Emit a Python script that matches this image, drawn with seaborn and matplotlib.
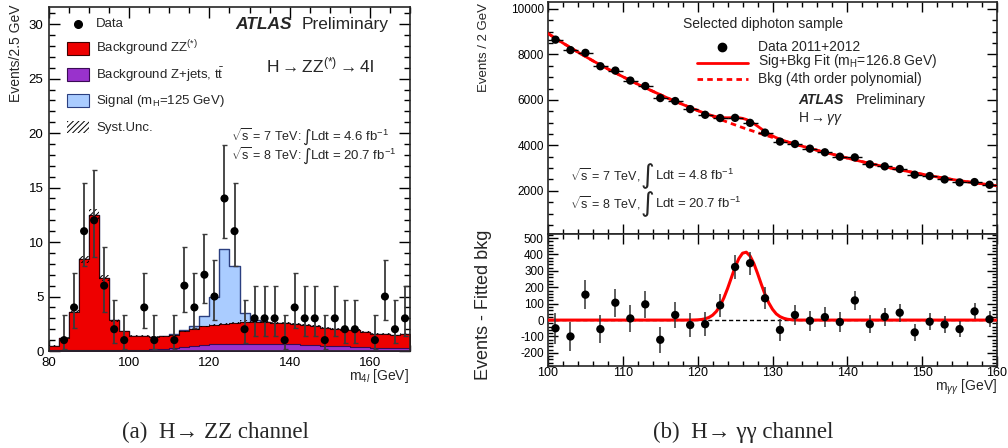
import numpy as np
import pandas as pd
import matplotlib
matplotlib.use("Agg")
import matplotlib.pyplot as plt
from matplotlib.patches import Rectangle
from matplotlib.lines import Line2D
from matplotlib.ticker import MultipleLocator
import seaborn as sns

# ---------------- H -> ZZ(*) -> 4l ----------------
zz_edges = np.arange(80.0, 170.01, 2.5)
zz_centers = 0.5 * (zz_edges[:-1] + zz_edges[1:])
zz_data = [0, 1, 4, 11, 12, 6, 2, 1, 0, 4, 1, 0, 1, 6, 4, 7, 5, 14, 11, 2,
           3, 3, 3, 1, 4, 3, 3, 1, 3, 2, 2, 0, 1, 5, 2, 3]
zz_bkg_zz = [0.45, 1.15, 3.55, 8.35, 12.45, 6.65, 2.75, 1.75, 1.32, 1.30, 1.15, 1.13,
             1.15, 1.40, 1.52, 1.67, 1.75, 1.82, 1.92, 2.02, 2.02, 1.99, 1.96, 1.93,
             1.90, 1.84, 1.78, 1.67, 1.55, 1.53, 1.52, 1.40, 1.28, 1.26, 1.19, 1.36]
zz_bkg_zjets = [0.05, 0.05, 0.05, 0.05, 0.05, 0.05, 0.05, 0.05, 0.08, 0.10, 0.15, 0.22,
                0.30, 0.40, 0.48, 0.58, 0.65, 0.68, 0.68, 0.68, 0.68, 0.66, 0.64, 0.62,
                0.60, 0.56, 0.52, 0.48, 0.45, 0.42, 0.38, 0.35, 0.32, 0.29, 0.26, 0.24]
zz_signal = [0, 0, 0, 0, 0, 0, 0, 0, 0, 0, 0, 0.05,
             0.08, 0.17, 0.32, 0.95, 2.6, 6.9, 5.2, 0.8, 0.15, 0.05, 0, 0,
             0, 0, 0, 0, 0, 0, 0, 0, 0, 0, 0, 0]
zz_syst = [0.03, 0.05, 0.15, 0.35, 0.50, 0.28, 0.12, 0.08, 0.06, 0.06, 0.06, 0.06,
           0.06, 0.07, 0.08, 0.09, 0.10, 0.10, 0.10, 0.10, 0.10, 0.10, 0.10, 0.10,
           0.10, 0.09, 0.09, 0.08, 0.08, 0.08, 0.08, 0.07, 0.07, 0.07, 0.06, 0.07]
# Poisson 68% intervals (lower, upper edge) for the observed counts
poisson_lo = {1: 0.17, 2: 0.71, 3: 1.37, 4: 2.09, 5: 2.84, 6: 3.62, 7: 4.42,
              11: 7.77, 12: 8.62, 14: 10.35}
poisson_hi = {1: 3.30, 2: 4.64, 3: 5.92, 4: 7.16, 5: 8.38, 6: 9.58, 7: 10.77,
              11: 15.4, 12: 16.6, 14: 18.9}

# ---------------- H -> gamma gamma ----------------
gg_centers = np.arange(101, 160, 2)
gg_data = [8650, 8190, 8070, 7480, 7290, 6850, 6610, 6080, 5950, 5595,
           5345, 5200, 5210, 4990, 4560, 4165, 4060, 3855, 3695, 3500,
           3470, 3165, 3075, 2960, 2710, 2650, 2500, 2370, 2385, 2265]
gg_resid = [-50, -100, 155, -55, 106, 10, 96, -120, 31, -30,
            -25, 90, 324, 347, 133, -60, 31, -4, 18, -12,
            120, -25, 20, 45, -75, -10, -27, -55, 53, 5]
gg_fit_x = np.arange(100, 160.01, 2)
gg_bkg_fit = [8920, 8500, 8100, 7720, 7360, 7020, 6690, 6380, 6080, 5800,
              5530, 5270, 5020, 4780, 4560, 4350, 4150, 3960, 3780, 3610,
              3440, 3280, 3130, 2990, 2860, 2730, 2610, 2500, 2400, 2310, 2220]
gg_sig_x = np.arange(119, 134.01, 0.5)
gg_sig_fit = [0.2, 0.6, 1.6, 3.6, 7.9, 16, 30, 53, 88, 135, 193, 258, 323, 375, 408,
              414, 391, 346, 285, 219, 157, 105, 66, 38, 21, 11, 5, 2.2, 0.9, 0.3, 0.1]

# ---------------- style ----------------
sns.set_style("ticks")
plt.rcParams['font.family'] = ['Liberation Sans', 'DejaVu Sans']
plt.rcParams['mathtext.fontset'] = 'custom'
plt.rcParams['mathtext.rm'] = 'Liberation Sans'
plt.rcParams['mathtext.it'] = 'Liberation Sans:italic'
plt.rcParams['mathtext.bf'] = 'Liberation Sans:bold'
plt.rcParams['hatch.linewidth'] = 0.7
plt.rcParams['axes.linewidth'] = 1.2
plt.rcParams['axes.unicode_minus'] = False

W, H = 1008, 448
fig = plt.figure(figsize=(W / 100, H / 100), dpi=100)


def P(x, y):
    return (x / W, 1 - y / H)


def box(l, t, r, b):
    return [l / W, 1 - b / H, (r - l) / W, (b - t) / H]


axL = fig.add_axes(box(49, 6.7, 410, 351))
axT = fig.add_axes(box(548, 1.7, 997, 234))
axB = fig.add_axes(box(548, 234, 997, 366))

TXT = 9.5
INT = ['DejaVu Sans']

# ---------------- left panel ----------------
zz_bkg_zz_a = np.array(zz_bkg_zz)
zz_zj_a = np.array(zz_bkg_zjets)
tot_red = zz_bkg_zz_a + zz_zj_a
tot_all = tot_red + np.array(zz_signal)
hist_df = pd.DataFrame({'m4l': zz_centers, 'all': tot_all, 'red': tot_red,
                        'zjets': zz_zj_a})
edge_list = [float(e) for e in zz_edges]

for col, fc, ec, lw in [('all', '#aaccff', '#2b3f80', 1.0),
                        ('red', '#ee0000', '#400000', 0.8),
                        ('zjets', '#9932cc', '#3a0a55', 0.8)]:
    sns.histplot(data=hist_df, x='m4l', weights=col, bins=edge_list, element='step',
                 fill=True, color=fc, alpha=1, edgecolor=ec, linewidth=lw, ax=axL)
axL.bar(zz_centers, 2 * np.array(zz_syst), bottom=tot_red - np.array(zz_syst), width=2.5,
        fill=False, hatch='//////', linewidth=0, edgecolor='k', zorder=3)

zd = np.array(zz_data)
m = zd > 0
xs = zz_centers[m]
ys = zd[m]
lo = np.array([n - poisson_lo[n] for n in ys])
hi = np.array([poisson_hi[n] - n for n in ys])
axL.errorbar(xs, ys, yerr=[lo, hi], fmt='none', ecolor='#3a3a3a', elinewidth=1.3,
             capsize=1.8, capthick=1.0, zorder=4)
sns.scatterplot(x=xs, y=ys, color='k', s=34, edgecolor='none', ax=axL, zorder=5)

axL.set_xlim(80, 170)
axL.set_ylim(0, 31.6)
axL.xaxis.set_major_locator(MultipleLocator(20))
axL.xaxis.set_minor_locator(MultipleLocator(5))
axL.yaxis.set_major_locator(MultipleLocator(5))
axL.yaxis.set_minor_locator(MultipleLocator(1))
axL.set_xlabel('')
axL.set_ylabel('')
axL.tick_params(which='both', direction='in', top=True, right=True, labelsize=9.5,
                width=1.0, colors='k')
axL.tick_params(which='major', length=8, pad=4)
axL.tick_params(which='minor', length=4)

fig.text(*P(16, 5), 'Events/2.5 GeV', rotation=90, ha='center', va='top', fontsize=10)
fig.text(*P(409, 376), r'm$_{4l}$ [GeV]', ha='right', va='center', fontsize=10)

# legend (left)
fig.add_artist(Line2D([77.5 / W], [1 - 24.3 / H], marker='o', color='k', ms=5.5,
                      transform=fig.transFigure))
fig.text(*P(96, 24.3), 'Data', va='center', fontsize=TXT)
leg_rows = [(48.3, '#ee0000', '#400000', r'Background ZZ$^{(*)}$'),
            (75.0, '#9932cc', '#3a0a55', r'Background Z+jets, t$\bar{\mathrm{t}}$'),
            (100.5, '#aaccff', '#2b3f80', r'Signal (m$_{\mathrm{H}}$=125 GeV)')]
for yc, fc, ec, lab in leg_rows:
    fig.add_artist(Rectangle(P(67, yc + 6.5), 22 / W, 13 / H, facecolor=fc, edgecolor=ec,
                             linewidth=0.8, transform=fig.transFigure))
    fig.text(*P(96, yc), lab, va='center', fontsize=TXT)
fig.add_artist(Rectangle(P(67, 127.5 + 6), 22 / W, 12 / H, fill=False, hatch='//////',
                         linewidth=0, edgecolor='k', transform=fig.transFigure))
fig.text(*P(96, 127.5), 'Syst.Unc.', va='center', fontsize=TXT)

fig.text(*P(235, 24.3), 'ATLAS', va='center', fontsize=12.5, fontweight='bold',
         fontstyle='italic')
fig.text(*P(302, 24.3), 'Preliminary', va='center', fontsize=12.5)
fig.text(*P(320, 65), r'H$\rightarrow$ZZ$^{(*)}$$\rightarrow$4l', va='center',
         ha='center', fontsize=12.5)
for yc, lab1, lab2 in [(136, r'$\sqrt{\mathrm{s}}$ = 7 TeV:', r'Ldt = 4.6 fb$^{-1}$'),
                       (155, r'$\sqrt{\mathrm{s}}$ = 8 TeV:', r'Ldt = 20.7 fb$^{-1}$')]:
    fig.text(*P(231, yc), lab1, va='center', fontsize=9)
    fig.text(*P(306.5, yc + 1), '\u222b', va='center', ha='center', fontsize=12,
             family=INT)
    fig.text(*P(310.5, yc), lab2, va='center', fontsize=9.5)

# ---------------- right panels ----------------
fine_x = np.union1d(gg_fit_x, gg_sig_x)
bkg_f = np.interp(fine_x, gg_fit_x, gg_bkg_fit)
sig_f = np.interp(fine_x, gg_sig_x, gg_sig_fit, left=0, right=0)

sns.lineplot(x=gg_fit_x, y=gg_bkg_fit, ax=axT, color='red', lw=2.0,
             linestyle=(0, (2, 1.5)), zorder=2)
sns.lineplot(x=fine_x, y=bkg_f + sig_f, ax=axT, color='red', lw=2.0, zorder=3)
gd = np.array(gg_data, dtype=float)
axT.errorbar(gg_centers, gd, xerr=1.0, yerr=np.sqrt(gd), fmt='none', ecolor='k',
             elinewidth=1.0, zorder=4)
sns.scatterplot(x=gg_centers, y=gd, color='k', s=36, edgecolor='none', ax=axT, zorder=5)
axT.set_xlim(100, 160)
axT.set_ylim(100, 10320)
axT.yaxis.set_major_locator(MultipleLocator(2000))
axT.yaxis.set_minor_locator(MultipleLocator(500))
axT.xaxis.set_major_locator(MultipleLocator(10))
axT.xaxis.set_minor_locator(MultipleLocator(2))
axT.set_xticklabels([])
axT.set_xlabel('')
axT.set_ylabel('')

axB.axhline(0, color='k', lw=1.0, ls=(0, (3, 2)), zorder=1)
sel = fine_x > 100
sns.lineplot(x=np.concatenate([[100.0], fine_x[sel], [160.0]]),
             y=np.concatenate([[0.0], sig_f[sel], [0.0]]),
             ax=axB, color='red', lw=2.2, zorder=3)
gr = np.array(gg_resid, dtype=float)
axB.errorbar(gg_centers, gr, yerr=np.sqrt(gd), fmt='none', ecolor='#333333',
             elinewidth=1.1, zorder=4)
sns.scatterplot(x=gg_centers, y=gr, color='k', s=36, edgecolor='none', ax=axB, zorder=5)
axB.set_xlim(100, 160)
axB.set_ylim(-280, 525)
axB.yaxis.set_major_locator(MultipleLocator(100))
axB.yaxis.set_minor_locator(MultipleLocator(20))
axB.xaxis.set_major_locator(MultipleLocator(10))
axB.xaxis.set_minor_locator(MultipleLocator(2))
axB.set_xlabel('')
axB.set_ylabel('')

for ax in (axT, axB):
    ax.tick_params(which='both', direction='in', top=True, right=True, labelsize=8.5,
                   width=1.0, colors='k')
    ax.tick_params(which='major', length=7, pad=3)
    ax.tick_params(which='minor', length=3.5)
axB.tick_params(axis='x', which='major', labelsize=9, pad=1.0)

fig.text(*P(484, 3), 'Events / 2 GeV', rotation=90, ha='center', va='top', fontsize=9.5)
fig.text(*P(484, 230), 'Events - Fitted bkg', rotation=90, ha='center', va='top',
         fontsize=13)
fig.text(*P(997, 387), r'm$_{\gamma\gamma}$ [GeV]', ha='right', va='center', fontsize=10)

fig.text(*P(763, 24), 'Selected diphoton sample', ha='center', va='center', fontsize=10)
fig.add_artist(Line2D([722 / W], [1 - 47 / H], marker='o', color='k', ms=6,
                      transform=fig.transFigure))
fig.text(*P(758, 47), 'Data 2011+2012', va='center', fontsize=10)
fig.add_artist(Line2D([697 / W, 748 / W], [1 - 63 / H] * 2, color='red', lw=2,
                      transform=fig.transFigure))
fig.text(*P(758, 61), r'Sig+Bkg Fit (m$_{\mathrm{H}}$=126.8 GeV)', va='center', fontsize=10)
fig.add_artist(Line2D([697 / W, 748 / W], [1 - 79 / H] * 2, color='red', lw=2,
                      ls=(0, (2, 1.5)), transform=fig.transFigure))
fig.text(*P(758, 79), 'Bkg (4th order polynomial)', va='center', fontsize=10)
fig.text(*P(798, 100), 'ATLAS', va='center', fontsize=10, fontweight='bold',
         fontstyle='italic')
fig.text(*P(856, 100), 'Preliminary', va='center', fontsize=10)
fig.text(*P(798, 118), r'H$\rightarrow\gamma\gamma$', va='center', fontsize=10)
for yc, lab1, lab2 in [(175, r'$\sqrt{\mathrm{s}}$ = 7 TeV,', r'Ldt = 4.8 fb$^{-1}$'),
                       (203, r'$\sqrt{\mathrm{s}}$ = 8 TeV,', r'Ldt = 20.7 fb$^{-1}$')]:
    fig.text(*P(570, yc), lab1, va='center', fontsize=9)
    fig.text(*P(647.5, yc + 1), '\u222b', va='center', ha='center', fontsize=19, family=INT)
    fig.text(*P(655, yc), lab2, va='center', fontsize=9.5)

# captions
SER = ['Liberation Serif', 'DejaVu Serif']
fig.text(*P(215.5, 432), '(a)  H\u2192 ZZ channel', ha='center', va='center',
         fontsize=16.5, family=SER)
fig.text(*P(743, 432), '(b)  H\u2192 \u03b3\u03b3 channel', ha='center', va='center',
         fontsize=16.5, family=SER)

fig.savefig('out.png', dpi=100)
